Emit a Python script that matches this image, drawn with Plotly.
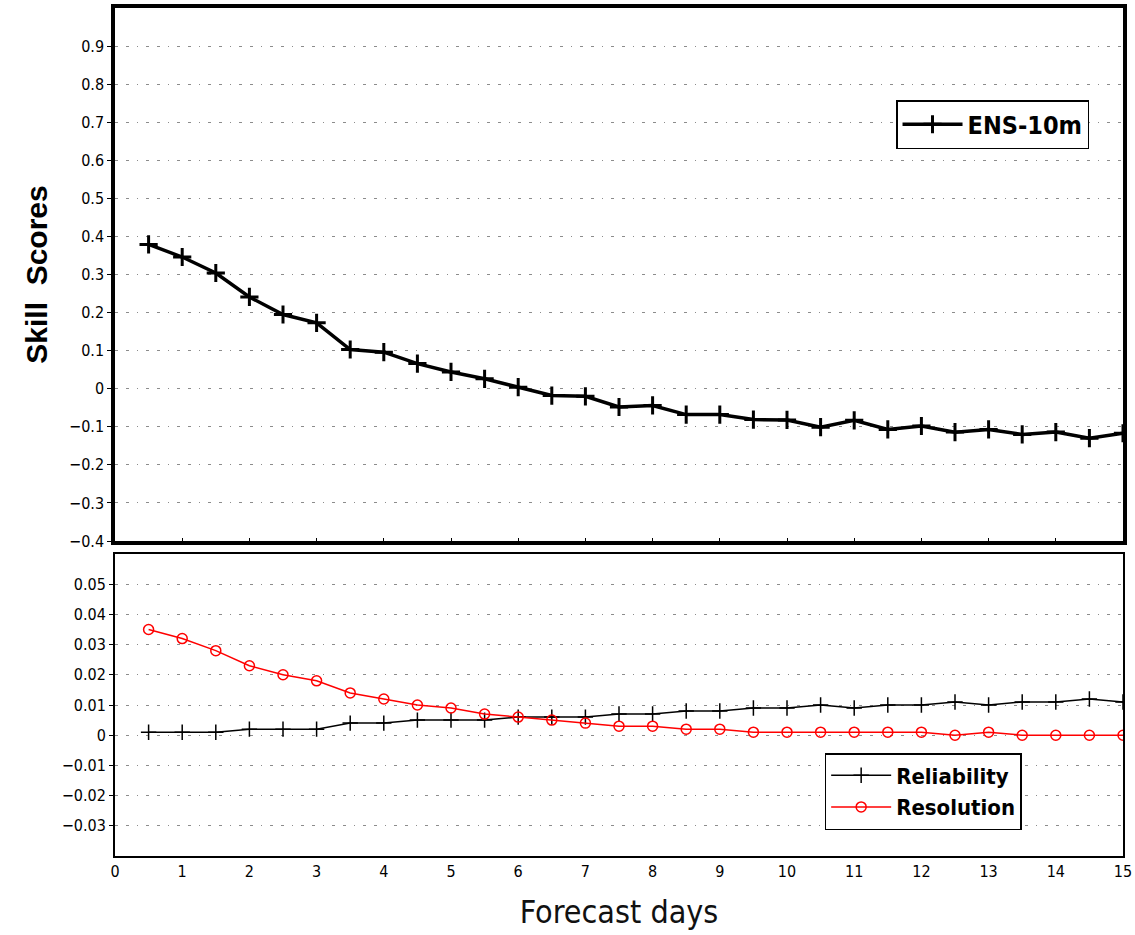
import plotly.graph_objects as go

# ---------------- data ----------------
days = [0.5, 1.0, 1.5, 2.0, 2.5, 3.0, 3.5, 4.0, 4.5, 5.0,
        5.5, 6.0, 6.5, 7.0, 7.5, 8.0, 8.5, 9.0, 9.5, 10.0,
        10.5, 11.0, 11.5, 12.0, 12.5, 13.0, 13.5, 14.0, 14.5, 15.0]

ens_10m = [0.379, 0.346, 0.304, 0.241, 0.195, 0.173, 0.103, 0.096, 0.066, 0.044,
           0.026, 0.004, -0.018, -0.020, -0.048, -0.044, -0.068, -0.068, -0.081, -0.082,
           -0.101, -0.083, -0.107, -0.098, -0.114, -0.107, -0.120, -0.114, -0.130, -0.117]

reliability = [0.001, 0.001, 0.001, 0.002, 0.002, 0.002, 0.004, 0.004, 0.005, 0.005,
               0.005, 0.006, 0.006, 0.006, 0.007, 0.007, 0.008, 0.008, 0.009, 0.009,
               0.010, 0.009, 0.010, 0.010, 0.011, 0.010, 0.011, 0.011, 0.012, 0.011]

resolution = [0.035, 0.032, 0.028, 0.023, 0.020, 0.018, 0.014, 0.012, 0.010, 0.009,
              0.007, 0.006, 0.005, 0.004, 0.003, 0.003, 0.002, 0.002, 0.001, 0.001,
              0.001, 0.001, 0.001, 0.001, 0.000, 0.001, 0.000, 0.000, 0.000, 0.000]

x_ticks = [0, 1, 2, 3, 4, 5, 6, 7, 8, 9, 10, 11, 12, 13, 14, 15]
top_ticks = [-0.4, -0.3, -0.2, -0.1, 0, 0.1, 0.2, 0.3, 0.4, 0.5, 0.6, 0.7, 0.8, 0.9]
top_tick_text = ["\u22120.4", "\u22120.3", "\u22120.2", "\u22120.1", "0", "0.1", "0.2",
                 "0.3", "0.4", "0.5", "0.6", "0.7", "0.8", "0.9"]
bot_ticks = [-0.03, -0.02, -0.01, 0, 0.01, 0.02, 0.03, 0.04, 0.05]
bot_tick_text = ["\u22120.03", "\u22120.02", "\u22120.01", "0", "0.01", "0.02",
                 "0.03", "0.04", "0.05"]

# ---------------- styling ----------------
NARROW = "Liberation Sans Narrow, DejaVu Sans Condensed, Arial Narrow, sans-serif"
TICK_FONT = dict(family=NARROW, size=16, color="black")
GRID = dict(showgrid=True, gridcolor="#8c8c8c", gridwidth=1,
            griddash="3px,8px,3px,8px,1px,8px")

fig = go.Figure()

fig.add_trace(go.Scatter(
    x=days, y=ens_10m, name="<b>ENS-10m</b>", mode="lines+markers",
    line=dict(color="black", width=3.5),
    marker=dict(symbol="cross-thin", size=13, line=dict(color="black", width=3)),
    xaxis="x2", yaxis="y2", legend="legend"))

fig.add_trace(go.Scatter(
    x=days, y=reliability, name="<b>Reliability</b>", mode="lines+markers",
    line=dict(color="black", width=1.5),
    marker=dict(symbol="cross-thin", size=11, line=dict(color="black", width=1.5)),
    xaxis="x", yaxis="y", legend="legend2"))

fig.add_trace(go.Scatter(
    x=days, y=resolution, name="<b>Resolution</b>", mode="lines+markers",
    line=dict(color="#ff0000", width=1.5),
    marker=dict(symbol="circle-open", size=10, color="#ff0000",
                line=dict(color="#ff0000", width=1.5)),
    xaxis="x", yaxis="y", legend="legend2"))

W, H = 1135, 935
L, R, T, B = 115, 3, 8, 79
plot_h = H - T - B
plot_w = W - L - R
top_lo = (H - B - 541) / plot_h
bot_hi = (H - B - 554) / plot_h

fig.update_layout(
    width=W, height=H,
    margin=dict(l=L, r=R, t=T, b=B),
    paper_bgcolor="white", plot_bgcolor="white",
    font=dict(family="Liberation Sans, Arial, sans-serif", color="black"),
    xaxis=dict(domain=[0, 1], range=[0, 15], tickvals=x_ticks,
               tickfont=TICK_FONT, ticks="", showgrid=False, zeroline=False,
               ticklabeloverflow="allow",
               showline=True, linecolor="black", linewidth=2, mirror=True,
               anchor="y",
               title=dict(text="Forecast days",
                          font=dict(family=NARROW, size=32, color="#111"),
                          standoff=20)),
    yaxis=dict(domain=[0, bot_hi], range=[-0.04, 0.06], tickvals=bot_ticks,
               ticktext=bot_tick_text, tickfont=TICK_FONT,
               ticks="outside", ticklen=4, tickcolor="black", zeroline=False,
               showline=True, linecolor="black", linewidth=2, mirror=True,
               anchor="x", **GRID),
    xaxis2=dict(domain=[0, 1], range=[0, 15], tickvals=x_ticks, matches="x",
                showticklabels=False, ticks="inside", ticklen=3, tickcolor="black",
                showgrid=False, zeroline=False,
                showline=True, linecolor="black", linewidth=3.5, mirror=True,
                anchor="y2"),
    yaxis2=dict(domain=[top_lo, 1], range=[-0.4, 1.0], tickvals=top_ticks,
                ticktext=top_tick_text, tickfont=TICK_FONT,
                ticks="outside", ticklen=4, tickcolor="black", zeroline=False,
                showline=True, linecolor="black", linewidth=3.5, mirror=True,
                anchor="x2",
                title=dict(text="<b>Skill  Scores</b>",
                           font=dict(family="Liberation Sans, Arial, sans-serif", size=30),
                           standoff=14),
                **GRID),
    legend=dict(x=(903 - L) / plot_w, y=(H - B - 100) / plot_h,
                xanchor="left", yanchor="top",
                bgcolor="white", bordercolor="black", borderwidth=1.5,
                font=dict(family=NARROW, size=25, color="black"),
                itemwidth=60, tracegroupgap=0),
    legend2=dict(x=(831 - L) / plot_w, y=(H - B - 753) / plot_h,
                 xanchor="left", yanchor="top",
                 bgcolor="white", bordercolor="black", borderwidth=1.5,
                 font=dict(family=NARROW, size=22, color="black"),
                 itemwidth=60, entrywidth=230, tracegroupgap=0),
    showlegend=True,
)

fig.write_html("out.html",
               config={"displayModeBar": False},
               post_script="document.body.style.margin='0';document.body.style.overflow='hidden';")
